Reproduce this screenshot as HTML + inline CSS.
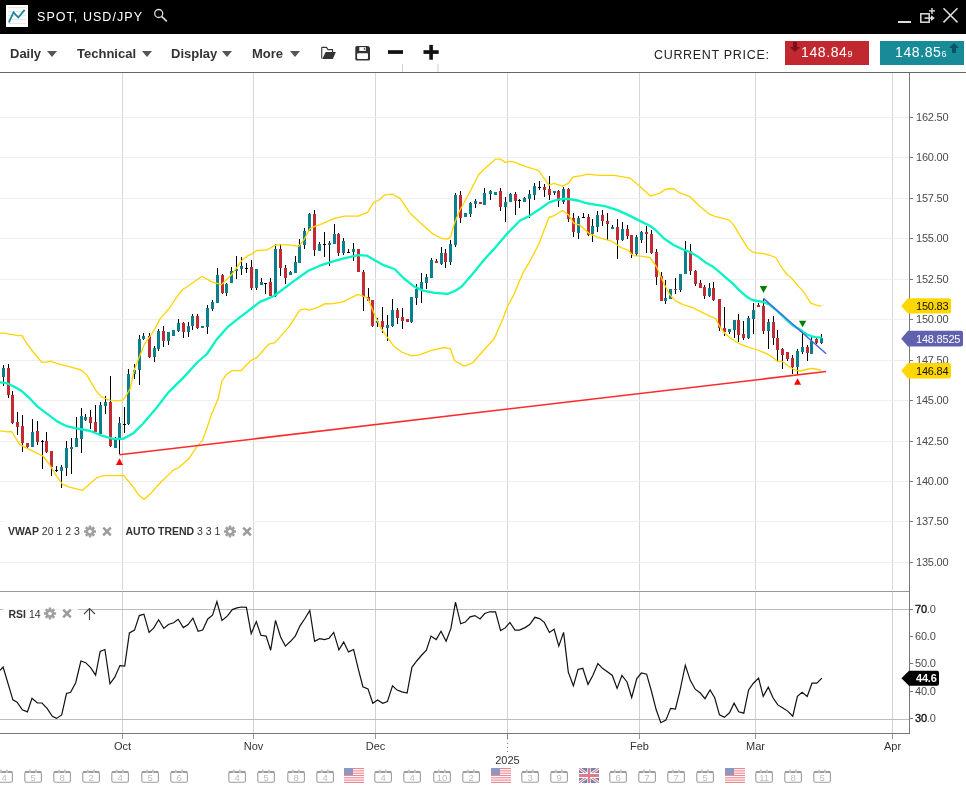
<!DOCTYPE html>
<html><head><meta charset="utf-8">
<style>
*{margin:0;padding:0;box-sizing:border-box}
html,body{width:966px;height:788px;overflow:hidden;background:#fff}
body{position:relative;font-family:"Liberation Sans",Arial,sans-serif}
#hdr{position:absolute;left:0;top:0;width:966px;height:34px;background:#000}
#tb{position:absolute;left:0;top:34px;width:966px;height:39px;background:#fff;border-bottom:1px solid #666}
.title{position:absolute;left:37px;top:10px;color:#fff;font-size:12.5px;letter-spacing:1.05px;white-space:nowrap}
.menu{position:absolute;top:12px;font-size:13px;font-weight:bold;color:#333;white-space:nowrap}
.caret{position:absolute;top:17px;width:0;height:0;border-left:5px solid transparent;border-right:5px solid transparent;border-top:6px solid #555}
.cp{position:absolute;left:654px;top:14px;font-size:12.5px;color:#222;letter-spacing:0.68px;white-space:nowrap}
.pbox{position:absolute;top:7px;height:24px;width:84px;color:#fff;font-size:14px;letter-spacing:0.6px}
.pbox span.t{position:absolute;top:3px;white-space:nowrap}
svg text.ax{font-family:"Liberation Sans",Arial,sans-serif;font-size:11px;fill:#4a4a4a;letter-spacing:-0.2px}
svg .axb{fill:#111;stroke:#111;stroke-width:0.35px}
svg text.xl{font-family:"Liberation Sans",Arial,sans-serif;font-size:11px;fill:#333}
svg text.cal{font-family:"Liberation Sans",Arial,sans-serif;font-size:9.5px;fill:#bdbdbd}
svg text.lg{font-family:"Liberation Sans",Arial,sans-serif;font-size:10.5px;fill:#333}
</style></head><body>
<svg id="chart" width="966" height="788" viewBox="0 0 966 788" style="position:absolute;left:0;top:0">
<rect x="122" y="73" width="1" height="517" fill="#d6d6d6"/>
<rect x="122" y="592" width="1" height="141" fill="#d0d0d0"/>
<rect x="253" y="73" width="1" height="517" fill="#d6d6d6"/>
<rect x="253" y="592" width="1" height="141" fill="#d0d0d0"/>
<rect x="375" y="73" width="1" height="517" fill="#d6d6d6"/>
<rect x="375" y="592" width="1" height="141" fill="#d0d0d0"/>
<rect x="507" y="73" width="1" height="517" fill="#d6d6d6"/>
<rect x="507" y="592" width="1" height="141" fill="#d0d0d0"/>
<rect x="639" y="73" width="1" height="517" fill="#d6d6d6"/>
<rect x="639" y="592" width="1" height="141" fill="#d0d0d0"/>
<rect x="755" y="73" width="1" height="517" fill="#d6d6d6"/>
<rect x="755" y="592" width="1" height="141" fill="#d0d0d0"/>
<rect x="892" y="73" width="1" height="517" fill="#d6d6d6"/>
<rect x="892" y="592" width="1" height="141" fill="#d0d0d0"/>
<rect x="0" y="117" width="908" height="1" fill="#eeeeee"/>
<rect x="0" y="157" width="908" height="1" fill="#eeeeee"/>
<rect x="0" y="198" width="908" height="1" fill="#eeeeee"/>
<rect x="0" y="238" width="908" height="1" fill="#eeeeee"/>
<rect x="0" y="279" width="908" height="1" fill="#eeeeee"/>
<rect x="0" y="319" width="908" height="1" fill="#eeeeee"/>
<rect x="0" y="360" width="908" height="1" fill="#eeeeee"/>
<rect x="0" y="400" width="908" height="1" fill="#eeeeee"/>
<rect x="0" y="441" width="908" height="1" fill="#eeeeee"/>
<rect x="0" y="481" width="908" height="1" fill="#eeeeee"/>
<rect x="0" y="521" width="908" height="1" fill="#eeeeee"/>
<rect x="0" y="562" width="908" height="1" fill="#eeeeee"/>
<rect x="0" y="609" width="909" height="1" fill="#bdbdbd"/>
<rect x="0" y="719" width="909" height="1" fill="#bdbdbd"/>
<rect x="0" y="591" width="909" height="1" fill="#9a9a9a"/>
<rect x="0" y="733" width="910" height="1" fill="#777"/>
<rect x="909" y="73" width="1" height="661" fill="#777"/>
<g shape-rendering="crispEdges">
<rect x="3" y="364.8" width="1" height="21.4" fill="#000"/>
<rect x="2" y="368.0" width="3" height="8.7" fill="#0c7f8c"/>
<rect x="8" y="363.7" width="1" height="33.9" fill="#000"/>
<rect x="7" y="368.0" width="3" height="26.8" fill="#c22a34"/>
<rect x="12" y="391.0" width="1" height="33.0" fill="#000"/>
<rect x="11" y="395.0" width="3" height="28.3" fill="#c22a34"/>
<rect x="17" y="411.9" width="1" height="22.9" fill="#000"/>
<rect x="16" y="422.0" width="3" height="4.8" fill="#c22a34"/>
<rect x="22" y="415.3" width="1" height="36.6" fill="#000"/>
<rect x="21" y="426.2" width="3" height="17.1" fill="#c22a34"/>
<rect x="27" y="443.0" width="1" height="5.6" fill="#000"/>
<rect x="26" y="443.0" width="3" height="3.7" fill="#c22a34"/>
<rect x="32" y="419.0" width="1" height="27.7" fill="#000"/>
<rect x="31" y="432.3" width="3" height="14.4" fill="#0c7f8c"/>
<rect x="37" y="420.8" width="1" height="23.8" fill="#000"/>
<rect x="36" y="431.0" width="3" height="11.0" fill="#c22a34"/>
<rect x="42" y="439.5" width="1" height="29.5" fill="#000"/>
<rect x="41" y="441.0" width="3" height="1.0" fill="#000"/>
<rect x="46" y="431.9" width="1" height="21.0" fill="#000"/>
<rect x="45" y="441.0" width="3" height="10.9" fill="#c22a34"/>
<rect x="51" y="451.0" width="1" height="24.7" fill="#000"/>
<rect x="50" y="451.3" width="3" height="15.3" fill="#c22a34"/>
<rect x="56" y="465.8" width="1" height="6.5" fill="#000"/>
<rect x="55" y="470.3" width="3" height="1.0" fill="#000"/>
<rect x="61" y="465.2" width="1" height="22.3" fill="#000"/>
<rect x="60" y="467.0" width="3" height="3.5" fill="#0c7f8c"/>
<rect x="66" y="441.0" width="1" height="34.7" fill="#000"/>
<rect x="65" y="448.0" width="3" height="19.7" fill="#0c7f8c"/>
<rect x="71" y="437.6" width="1" height="36.1" fill="#000"/>
<rect x="70" y="447.0" width="3" height="2.0" fill="#0c7f8c"/>
<rect x="76" y="417.2" width="1" height="29.9" fill="#000"/>
<rect x="75" y="438.1" width="3" height="9.0" fill="#0c7f8c"/>
<rect x="81" y="408.0" width="1" height="44.8" fill="#000"/>
<rect x="80" y="416.0" width="3" height="23.0" fill="#0c7f8c"/>
<rect x="85" y="413.8" width="1" height="7.2" fill="#000"/>
<rect x="84" y="417.2" width="3" height="2.7" fill="#0c7f8c"/>
<rect x="90" y="409.6" width="1" height="19.8" fill="#000"/>
<rect x="89" y="417.2" width="3" height="5.6" fill="#c22a34"/>
<rect x="95" y="405.2" width="1" height="27.2" fill="#000"/>
<rect x="94" y="422.3" width="3" height="10.1" fill="#c22a34"/>
<rect x="100" y="402.0" width="1" height="32.5" fill="#000"/>
<rect x="99" y="405.2" width="3" height="28.6" fill="#0c7f8c"/>
<rect x="105" y="396.3" width="1" height="17.5" fill="#000"/>
<rect x="104" y="402.0" width="3" height="3.8" fill="#0c7f8c"/>
<rect x="110" y="376.0" width="1" height="70.5" fill="#000"/>
<rect x="109" y="402.0" width="3" height="43.8" fill="#c22a34"/>
<rect x="115" y="437.0" width="1" height="10.6" fill="#000"/>
<rect x="114" y="437.6" width="3" height="10.0" fill="#0c7f8c"/>
<rect x="119" y="417.2" width="1" height="36.9" fill="#000"/>
<rect x="118" y="423.3" width="3" height="14.3" fill="#0c7f8c"/>
<rect x="124" y="407.1" width="1" height="25.7" fill="#000"/>
<rect x="123" y="424.3" width="3" height="1.0" fill="#000"/>
<rect x="128" y="369.0" width="1" height="56.0" fill="#000"/>
<rect x="127" y="374.2" width="3" height="50.1" fill="#0c7f8c"/>
<rect x="134" y="364.2" width="1" height="14.3" fill="#000"/>
<rect x="133" y="370.0" width="3" height="4.2" fill="#0c7f8c"/>
<rect x="139" y="335.3" width="1" height="49.5" fill="#000"/>
<rect x="138" y="339.1" width="3" height="31.2" fill="#0c7f8c"/>
<rect x="143" y="333.4" width="1" height="6.5" fill="#000"/>
<rect x="142" y="336.0" width="3" height="2.6" fill="#0c7f8c"/>
<rect x="149" y="333.4" width="1" height="24.2" fill="#000"/>
<rect x="148" y="336.0" width="3" height="21.0" fill="#c22a34"/>
<rect x="154" y="345.6" width="1" height="16.4" fill="#000"/>
<rect x="153" y="348.0" width="3" height="8.7" fill="#0c7f8c"/>
<rect x="158" y="329.0" width="1" height="22.0" fill="#000"/>
<rect x="157" y="331.0" width="3" height="17.6" fill="#0c7f8c"/>
<rect x="163" y="326.2" width="1" height="20.5" fill="#000"/>
<rect x="162" y="331.0" width="3" height="10.4" fill="#c22a34"/>
<rect x="168" y="331.9" width="1" height="12.9" fill="#000"/>
<rect x="167" y="331.9" width="3" height="9.5" fill="#0c7f8c"/>
<rect x="173" y="330.4" width="1" height="5.3" fill="#000"/>
<rect x="172" y="330.4" width="3" height="5.3" fill="#0c7f8c"/>
<rect x="178" y="319.0" width="1" height="13.3" fill="#000"/>
<rect x="177" y="323.3" width="3" height="7.7" fill="#0c7f8c"/>
<rect x="183" y="322.0" width="1" height="15.6" fill="#000"/>
<rect x="182" y="323.3" width="3" height="8.6" fill="#c22a34"/>
<rect x="188" y="322.4" width="1" height="14.3" fill="#000"/>
<rect x="187" y="325.8" width="3" height="5.7" fill="#0c7f8c"/>
<rect x="192" y="313.8" width="1" height="16.6" fill="#000"/>
<rect x="191" y="316.3" width="3" height="9.9" fill="#0c7f8c"/>
<rect x="197" y="313.7" width="1" height="15.3" fill="#000"/>
<rect x="196" y="316.1" width="3" height="12.0" fill="#c22a34"/>
<rect x="202" y="325.7" width="1" height="1.9" fill="#000"/>
<rect x="201" y="325.7" width="3" height="1.9" fill="#0c7f8c"/>
<rect x="207" y="305.3" width="1" height="28.5" fill="#000"/>
<rect x="206" y="308.0" width="3" height="18.6" fill="#0c7f8c"/>
<rect x="212" y="300.0" width="1" height="11.0" fill="#000"/>
<rect x="211" y="301.9" width="3" height="6.7" fill="#0c7f8c"/>
<rect x="217" y="268.0" width="1" height="34.8" fill="#000"/>
<rect x="216" y="275.2" width="3" height="27.6" fill="#0c7f8c"/>
<rect x="222" y="273.7" width="1" height="20.6" fill="#000"/>
<rect x="221" y="275.2" width="3" height="18.1" fill="#c22a34"/>
<rect x="226" y="282.5" width="1" height="13.3" fill="#000"/>
<rect x="225" y="284.3" width="3" height="8.4" fill="#0c7f8c"/>
<rect x="231" y="267.2" width="1" height="15.6" fill="#000"/>
<rect x="230" y="271.4" width="3" height="11.4" fill="#0c7f8c"/>
<rect x="236" y="255.8" width="1" height="23.6" fill="#000"/>
<rect x="235" y="268.6" width="3" height="2.8" fill="#0c7f8c"/>
<rect x="241" y="257.1" width="1" height="17.8" fill="#000"/>
<rect x="240" y="266.1" width="3" height="2.5" fill="#0c7f8c"/>
<rect x="246" y="263.4" width="1" height="9.9" fill="#000"/>
<rect x="245" y="267.6" width="3" height="1.0" fill="#000"/>
<rect x="251" y="260.4" width="1" height="29.1" fill="#000"/>
<rect x="250" y="267.2" width="3" height="20.4" fill="#c22a34"/>
<rect x="256" y="269.0" width="1" height="20.5" fill="#000"/>
<rect x="255" y="269.1" width="3" height="18.5" fill="#0c7f8c"/>
<rect x="261" y="278.4" width="1" height="6.1" fill="#000"/>
<rect x="260" y="282.2" width="3" height="2.3" fill="#0c7f8c"/>
<rect x="265" y="282.6" width="1" height="11.0" fill="#000"/>
<rect x="264" y="282.6" width="3" height="1.0" fill="#000"/>
<rect x="270" y="278.4" width="1" height="17.1" fill="#000"/>
<rect x="269" y="282.2" width="3" height="13.3" fill="#c22a34"/>
<rect x="275" y="243.5" width="1" height="53.9" fill="#000"/>
<rect x="274" y="249.3" width="3" height="46.7" fill="#0c7f8c"/>
<rect x="280" y="243.5" width="1" height="32.4" fill="#000"/>
<rect x="279" y="249.3" width="3" height="19.0" fill="#c22a34"/>
<rect x="285" y="265.0" width="1" height="18.5" fill="#000"/>
<rect x="284" y="267.7" width="3" height="10.7" fill="#c22a34"/>
<rect x="290" y="270.8" width="1" height="4.2" fill="#000"/>
<rect x="289" y="272.1" width="3" height="2.9" fill="#0c7f8c"/>
<rect x="295" y="255.5" width="1" height="17.2" fill="#000"/>
<rect x="294" y="262.0" width="3" height="10.7" fill="#0c7f8c"/>
<rect x="299" y="239.2" width="1" height="24.0" fill="#000"/>
<rect x="298" y="244.9" width="3" height="18.3" fill="#0c7f8c"/>
<rect x="304" y="228.3" width="1" height="20.4" fill="#000"/>
<rect x="303" y="230.8" width="3" height="14.1" fill="#0c7f8c"/>
<rect x="309" y="213.1" width="1" height="17.7" fill="#000"/>
<rect x="308" y="213.7" width="3" height="17.1" fill="#0c7f8c"/>
<rect x="314" y="209.9" width="1" height="46.4" fill="#000"/>
<rect x="313" y="214.0" width="3" height="36.2" fill="#c22a34"/>
<rect x="319" y="241.7" width="1" height="8.9" fill="#000"/>
<rect x="318" y="244.1" width="3" height="6.5" fill="#0c7f8c"/>
<rect x="324" y="232.4" width="1" height="24.3" fill="#000"/>
<rect x="323" y="244.2" width="3" height="1.0" fill="#000"/>
<rect x="329" y="241.0" width="1" height="24.7" fill="#000"/>
<rect x="328" y="243.4" width="3" height="1.9" fill="#0c7f8c"/>
<rect x="334" y="224.4" width="1" height="19.8" fill="#000"/>
<rect x="333" y="234.3" width="3" height="9.9" fill="#0c7f8c"/>
<rect x="338" y="232.8" width="1" height="22.8" fill="#000"/>
<rect x="337" y="233.9" width="3" height="19.0" fill="#c22a34"/>
<rect x="343" y="238.1" width="1" height="16.7" fill="#000"/>
<rect x="342" y="241.0" width="3" height="11.9" fill="#0c7f8c"/>
<rect x="348" y="248.6" width="1" height="3.8" fill="#000"/>
<rect x="347" y="252.4" width="3" height="1.0" fill="#000"/>
<rect x="353" y="243.4" width="1" height="17.9" fill="#000"/>
<rect x="352" y="248.6" width="3" height="3.8" fill="#0c7f8c"/>
<rect x="358" y="248.6" width="1" height="23.8" fill="#000"/>
<rect x="357" y="248.6" width="3" height="23.8" fill="#c22a34"/>
<rect x="363" y="270.1" width="1" height="41.3" fill="#000"/>
<rect x="362" y="272.0" width="3" height="25.1" fill="#c22a34"/>
<rect x="368" y="288.0" width="1" height="13.3" fill="#000"/>
<rect x="367" y="297.1" width="3" height="3.4" fill="#c22a34"/>
<rect x="372" y="300.0" width="1" height="27.2" fill="#000"/>
<rect x="371" y="300.0" width="3" height="26.0" fill="#c22a34"/>
<rect x="377" y="318.0" width="1" height="8.6" fill="#000"/>
<rect x="376" y="320.9" width="3" height="2.5" fill="#0c7f8c"/>
<rect x="382" y="307.0" width="1" height="26.3" fill="#000"/>
<rect x="381" y="320.9" width="3" height="6.3" fill="#c22a34"/>
<rect x="387" y="315.2" width="1" height="25.7" fill="#000"/>
<rect x="386" y="324.7" width="3" height="3.2" fill="#0c7f8c"/>
<rect x="392" y="298.9" width="1" height="28.1" fill="#000"/>
<rect x="391" y="310.3" width="3" height="15.8" fill="#0c7f8c"/>
<rect x="397" y="308.0" width="1" height="16.2" fill="#000"/>
<rect x="396" y="310.3" width="3" height="7.3" fill="#c22a34"/>
<rect x="402" y="308.0" width="1" height="20.6" fill="#000"/>
<rect x="401" y="317.2" width="3" height="3.8" fill="#c22a34"/>
<rect x="407" y="319.1" width="1" height="2.6" fill="#000"/>
<rect x="406" y="319.1" width="3" height="2.6" fill="#c22a34"/>
<rect x="411" y="297.0" width="1" height="26.3" fill="#000"/>
<rect x="410" y="297.0" width="3" height="24.7" fill="#0c7f8c"/>
<rect x="416" y="283.7" width="1" height="20.9" fill="#000"/>
<rect x="415" y="288.6" width="3" height="9.5" fill="#0c7f8c"/>
<rect x="421" y="272.8" width="1" height="29.9" fill="#000"/>
<rect x="420" y="282.3" width="3" height="6.7" fill="#0c7f8c"/>
<rect x="426" y="273.8" width="1" height="15.6" fill="#000"/>
<rect x="425" y="277.2" width="3" height="6.1" fill="#0c7f8c"/>
<rect x="431" y="257.6" width="1" height="20.0" fill="#000"/>
<rect x="430" y="260.0" width="3" height="17.6" fill="#0c7f8c"/>
<rect x="436" y="259.0" width="1" height="4.3" fill="#000"/>
<rect x="435" y="260.5" width="3" height="2.8" fill="#c22a34"/>
<rect x="441" y="246.8" width="1" height="17.8" fill="#000"/>
<rect x="440" y="252.9" width="3" height="11.0" fill="#0c7f8c"/>
<rect x="445" y="249.0" width="1" height="19.0" fill="#000"/>
<rect x="444" y="252.9" width="3" height="9.1" fill="#c22a34"/>
<rect x="450" y="239.9" width="1" height="24.7" fill="#000"/>
<rect x="449" y="244.3" width="3" height="17.7" fill="#0c7f8c"/>
<rect x="455" y="193.4" width="1" height="53.3" fill="#000"/>
<rect x="454" y="195.3" width="3" height="49.5" fill="#0c7f8c"/>
<rect x="460" y="191.0" width="1" height="31.7" fill="#000"/>
<rect x="459" y="195.3" width="3" height="22.3" fill="#c22a34"/>
<rect x="465" y="213.2" width="1" height="3.4" fill="#000"/>
<rect x="464" y="213.2" width="3" height="3.4" fill="#0c7f8c"/>
<rect x="470" y="201.8" width="1" height="14.8" fill="#000"/>
<rect x="469" y="202.9" width="3" height="10.9" fill="#0c7f8c"/>
<rect x="475" y="199.1" width="1" height="8.4" fill="#000"/>
<rect x="474" y="201.0" width="3" height="2.7" fill="#0c7f8c"/>
<rect x="480" y="202.4" width="1" height="1.9" fill="#000"/>
<rect x="479" y="202.4" width="3" height="1.9" fill="#c22a34"/>
<rect x="484" y="188.1" width="1" height="16.7" fill="#000"/>
<rect x="483" y="193.4" width="3" height="11.4" fill="#0c7f8c"/>
<rect x="490" y="190.0" width="1" height="9.9" fill="#000"/>
<rect x="489" y="191.0" width="3" height="2.8" fill="#0c7f8c"/>
<rect x="495" y="191.5" width="1" height="3.3" fill="#000"/>
<rect x="494" y="191.5" width="3" height="3.3" fill="#0c7f8c"/>
<rect x="500" y="188.1" width="1" height="22.9" fill="#000"/>
<rect x="499" y="191.0" width="3" height="15.8" fill="#c22a34"/>
<rect x="505" y="197.2" width="1" height="24.8" fill="#000"/>
<rect x="504" y="202.4" width="3" height="4.4" fill="#0c7f8c"/>
<rect x="510" y="193.4" width="1" height="9.0" fill="#000"/>
<rect x="509" y="194.2" width="3" height="8.2" fill="#0c7f8c"/>
<rect x="515" y="192.3" width="1" height="22.5" fill="#000"/>
<rect x="514" y="194.2" width="3" height="6.8" fill="#c22a34"/>
<rect x="519" y="198.5" width="1" height="9.0" fill="#000"/>
<rect x="518" y="199.9" width="3" height="1.0" fill="#000"/>
<rect x="524" y="197.0" width="1" height="4.8" fill="#000"/>
<rect x="523" y="198.0" width="3" height="3.8" fill="#0c7f8c"/>
<rect x="529" y="190.4" width="1" height="27.2" fill="#000"/>
<rect x="528" y="194.2" width="3" height="4.9" fill="#0c7f8c"/>
<rect x="534" y="183.3" width="1" height="16.2" fill="#000"/>
<rect x="533" y="186.2" width="3" height="8.6" fill="#0c7f8c"/>
<rect x="539" y="181.4" width="1" height="9.0" fill="#000"/>
<rect x="538" y="187.1" width="3" height="1.0" fill="#000"/>
<rect x="544" y="184.3" width="1" height="12.4" fill="#000"/>
<rect x="543" y="187.1" width="3" height="2.9" fill="#c22a34"/>
<rect x="549" y="176.3" width="1" height="23.2" fill="#000"/>
<rect x="548" y="189.0" width="3" height="5.8" fill="#c22a34"/>
<rect x="554" y="191.0" width="1" height="3.8" fill="#000"/>
<rect x="553" y="191.0" width="3" height="1.9" fill="#0c7f8c"/>
<rect x="558" y="190.0" width="1" height="16.8" fill="#000"/>
<rect x="557" y="191.0" width="3" height="10.4" fill="#c22a34"/>
<rect x="563" y="187.1" width="1" height="17.2" fill="#000"/>
<rect x="562" y="189.0" width="3" height="12.8" fill="#0c7f8c"/>
<rect x="568" y="187.7" width="1" height="34.7" fill="#000"/>
<rect x="567" y="189.0" width="3" height="29.6" fill="#c22a34"/>
<rect x="573" y="213.2" width="1" height="23.4" fill="#000"/>
<rect x="572" y="218.2" width="3" height="14.1" fill="#c22a34"/>
<rect x="578" y="216.3" width="1" height="22.2" fill="#000"/>
<rect x="577" y="218.2" width="3" height="14.6" fill="#0c7f8c"/>
<rect x="583" y="213.4" width="1" height="3.8" fill="#000"/>
<rect x="582" y="217.2" width="3" height="1.0" fill="#000"/>
<rect x="588" y="214.2" width="1" height="21.5" fill="#000"/>
<rect x="587" y="217.2" width="3" height="17.9" fill="#c22a34"/>
<rect x="592" y="218.5" width="1" height="23.5" fill="#000"/>
<rect x="591" y="226.2" width="3" height="8.1" fill="#0c7f8c"/>
<rect x="597" y="211.0" width="1" height="21.4" fill="#000"/>
<rect x="596" y="215.3" width="3" height="11.5" fill="#0c7f8c"/>
<rect x="602" y="210.0" width="1" height="15.6" fill="#000"/>
<rect x="601" y="215.3" width="3" height="5.7" fill="#c22a34"/>
<rect x="607" y="213.4" width="1" height="26.7" fill="#000"/>
<rect x="606" y="220.5" width="3" height="3.2" fill="#c22a34"/>
<rect x="612" y="225.2" width="1" height="3.4" fill="#000"/>
<rect x="611" y="226.8" width="3" height="1.8" fill="#0c7f8c"/>
<rect x="617" y="218.5" width="1" height="40.0" fill="#000"/>
<rect x="616" y="226.8" width="3" height="12.7" fill="#c22a34"/>
<rect x="622" y="222.4" width="1" height="18.4" fill="#000"/>
<rect x="621" y="229.0" width="3" height="11.1" fill="#0c7f8c"/>
<rect x="627" y="225.2" width="1" height="13.7" fill="#000"/>
<rect x="626" y="229.4" width="3" height="6.3" fill="#c22a34"/>
<rect x="631" y="235.1" width="1" height="22.9" fill="#000"/>
<rect x="630" y="235.1" width="3" height="18.7" fill="#c22a34"/>
<rect x="636" y="235.1" width="1" height="20.6" fill="#000"/>
<rect x="635" y="237.0" width="3" height="16.8" fill="#0c7f8c"/>
<rect x="641" y="231.0" width="1" height="11.7" fill="#000"/>
<rect x="640" y="231.9" width="3" height="7.6" fill="#0c7f8c"/>
<rect x="646" y="225.6" width="1" height="27.8" fill="#000"/>
<rect x="645" y="231.9" width="3" height="2.4" fill="#c22a34"/>
<rect x="651" y="230.1" width="1" height="23.6" fill="#000"/>
<rect x="650" y="234.3" width="3" height="18.6" fill="#c22a34"/>
<rect x="656" y="249.1" width="1" height="35.6" fill="#000"/>
<rect x="655" y="251.8" width="3" height="24.7" fill="#c22a34"/>
<rect x="661" y="272.0" width="1" height="28.5" fill="#000"/>
<rect x="660" y="276.2" width="3" height="24.3" fill="#c22a34"/>
<rect x="665" y="280.0" width="1" height="23.8" fill="#000"/>
<rect x="664" y="298.1" width="3" height="2.4" fill="#0c7f8c"/>
<rect x="670" y="289.0" width="1" height="10.4" fill="#000"/>
<rect x="669" y="289.1" width="3" height="10.3" fill="#0c7f8c"/>
<rect x="675" y="278.0" width="1" height="15.7" fill="#000"/>
<rect x="674" y="288.5" width="3" height="1.9" fill="#c22a34"/>
<rect x="680" y="274.0" width="1" height="17.8" fill="#000"/>
<rect x="679" y="274.2" width="3" height="16.2" fill="#0c7f8c"/>
<rect x="685" y="241.0" width="1" height="33.2" fill="#000"/>
<rect x="684" y="250.5" width="3" height="23.7" fill="#0c7f8c"/>
<rect x="690" y="244.2" width="1" height="30.4" fill="#000"/>
<rect x="689" y="251.4" width="3" height="20.0" fill="#c22a34"/>
<rect x="695" y="269.5" width="1" height="16.2" fill="#000"/>
<rect x="694" y="271.4" width="3" height="12.4" fill="#c22a34"/>
<rect x="700" y="280.3" width="1" height="7.3" fill="#000"/>
<rect x="699" y="282.8" width="3" height="4.8" fill="#c22a34"/>
<rect x="704" y="285.3" width="1" height="13.3" fill="#000"/>
<rect x="703" y="287.2" width="3" height="8.9" fill="#c22a34"/>
<rect x="709" y="283.4" width="1" height="13.2" fill="#000"/>
<rect x="708" y="288.0" width="3" height="8.1" fill="#0c7f8c"/>
<rect x="713" y="282.0" width="1" height="19.0" fill="#000"/>
<rect x="712" y="288.0" width="3" height="12.0" fill="#c22a34"/>
<rect x="719" y="299.0" width="1" height="31.9" fill="#000"/>
<rect x="718" y="299.1" width="3" height="28.9" fill="#c22a34"/>
<rect x="724" y="306.7" width="1" height="29.3" fill="#000"/>
<rect x="723" y="328.0" width="3" height="4.2" fill="#c22a34"/>
<rect x="729" y="329.0" width="1" height="4.8" fill="#000"/>
<rect x="728" y="329.0" width="3" height="3.2" fill="#0c7f8c"/>
<rect x="734" y="320.0" width="1" height="18.0" fill="#000"/>
<rect x="733" y="320.0" width="3" height="9.6" fill="#0c7f8c"/>
<rect x="738" y="313.8" width="1" height="28.0" fill="#000"/>
<rect x="737" y="320.0" width="3" height="14.7" fill="#c22a34"/>
<rect x="743" y="320.8" width="1" height="19.6" fill="#000"/>
<rect x="742" y="333.8" width="3" height="3.8" fill="#c22a34"/>
<rect x="748" y="316.2" width="1" height="22.3" fill="#000"/>
<rect x="747" y="317.6" width="3" height="20.4" fill="#0c7f8c"/>
<rect x="753" y="302.9" width="1" height="30.9" fill="#000"/>
<rect x="752" y="310.0" width="3" height="8.6" fill="#0c7f8c"/>
<rect x="758" y="302.9" width="1" height="3.8" fill="#000"/>
<rect x="757" y="305.2" width="3" height="1.5" fill="#c22a34"/>
<rect x="763" y="298.5" width="1" height="35.3" fill="#000"/>
<rect x="762" y="305.6" width="3" height="25.4" fill="#c22a34"/>
<rect x="768" y="318.9" width="1" height="30.5" fill="#000"/>
<rect x="767" y="322.0" width="3" height="9.0" fill="#0c7f8c"/>
<rect x="773" y="315.7" width="1" height="29.1" fill="#000"/>
<rect x="772" y="322.0" width="3" height="16.0" fill="#c22a34"/>
<rect x="777" y="330.3" width="1" height="32.0" fill="#000"/>
<rect x="776" y="337.6" width="3" height="12.4" fill="#c22a34"/>
<rect x="782" y="348.2" width="1" height="20.4" fill="#000"/>
<rect x="781" y="349.3" width="3" height="5.3" fill="#c22a34"/>
<rect x="787" y="352.3" width="1" height="8.4" fill="#000"/>
<rect x="786" y="352.3" width="3" height="6.5" fill="#c22a34"/>
<rect x="792" y="354.9" width="1" height="18.7" fill="#000"/>
<rect x="791" y="357.9" width="3" height="9.1" fill="#c22a34"/>
<rect x="797" y="349.3" width="1" height="25.8" fill="#000"/>
<rect x="796" y="350.8" width="3" height="16.0" fill="#0c7f8c"/>
<rect x="802" y="332.5" width="1" height="21.2" fill="#000"/>
<rect x="801" y="347.0" width="3" height="4.5" fill="#0c7f8c"/>
<rect x="807" y="345.1" width="1" height="15.6" fill="#000"/>
<rect x="806" y="347.0" width="3" height="5.7" fill="#c22a34"/>
<rect x="811" y="336.0" width="1" height="17.8" fill="#000"/>
<rect x="810" y="340.6" width="3" height="13.2" fill="#0c7f8c"/>
<rect x="816" y="338.3" width="1" height="5.4" fill="#000"/>
<rect x="815" y="339.0" width="3" height="3.7" fill="#c22a34"/>
<rect x="821" y="334.1" width="1" height="9.6" fill="#000"/>
<rect x="820" y="338.1" width="3" height="4.9" fill="#0c7f8c"/>
</g>
<polyline points="0.0,333.2 4.1,333.2 18.3,335.7 21.8,335.4 27.4,344.4 33.5,352.5 41.6,362.1 46.7,362.1 50.8,361.1 55.8,363.1 71.1,367.2 81.0,370.0 86.7,374.8 96.2,391.0 101.0,396.7 109.5,400.1 117.1,400.9 122.9,400.1 126.7,394.8 130.0,389.0 134.5,369.0 140.2,354.8 144.0,345.2 153.6,331.0 160.2,318.6 168.8,309.0 176.4,297.6 182.1,290.0 190.0,284.7 201.8,276.2 211.9,281.9 221.4,284.7 231.9,274.3 241.4,261.0 247.1,256.2 251.9,253.9 256.7,250.5 266.4,250.2 276.0,244.9 289.3,244.9 298.8,246.4 304.5,238.8 310.2,228.3 316.0,225.8 320.0,224.7 335.2,218.1 344.8,216.2 358.1,216.2 367.6,212.4 373.3,202.9 379.0,200.0 385.0,194.8 392.6,194.2 400.2,198.6 409.8,212.9 423.1,225.2 432.6,233.8 442.1,238.5 447.9,239.1 450.7,236.6 454.5,223.3 459.5,211.0 469.0,193.8 478.6,174.8 484.3,169.0 495.7,159.1 500.5,159.1 505.2,162.4 511.0,161.4 515.0,162.4 524.5,166.2 538.8,170.6 543.6,177.6 548.9,185.2 554.0,183.3 562.6,186.2 568.3,183.3 573.0,177.0 581.6,175.7 587.6,174.2 599.0,175.3 614.3,175.3 630.0,178.1 639.3,185.9 650.7,196.2 660.0,193.1 665.2,189.5 670.4,188.5 674.5,189.0 679.7,192.9 690.0,196.7 698.3,205.0 708.7,213.8 714.9,216.4 720.0,217.7 729.1,220.1 734.0,225.4 740.9,237.2 747.9,248.4 753.5,252.6 761.9,253.3 768.9,255.0 775.8,257.5 781.4,267.2 787.0,274.5 792.6,279.1 798.2,286.1 803.1,291.0 810.7,303.2 816.3,305.2 821.0,306.0" fill="none" stroke="#ffd400" stroke-width="1.3" stroke-linejoin="round"/>
<polyline points="0.0,430.9 7.6,431.9 11.6,431.5 19.8,444.7 34.3,451.9 42.9,456.0 49.5,464.5 57.1,477.0 62.7,484.3 69.5,487.1 82.5,490.3 97.1,477.6 103.8,475.7 121.9,475.7 123.4,475.1 133.7,487.7 138.3,494.6 144.0,499.6 149.7,494.6 158.9,484.3 172.6,470.6 179.4,467.1 188.6,459.1 197.7,445.4 202.3,440.9 206.9,428.3 211.4,414.6 218.3,398.6 221.7,381.4 226.3,374.6 232.0,370.7 241.1,370.7 250.3,360.9 257.1,357.4 268.6,344.2 275.0,342.6 289.3,326.4 299.8,310.2 304.5,308.9 309.3,310.2 317.9,307.3 325.0,303.6 331.4,303.8 342.9,301.9 350.5,298.1 358.1,294.3 362.9,296.2 367.6,298.1 373.3,311.4 380.0,326.4 386.6,336.3 393.2,345.4 401.5,352.0 411.5,355.8 419.7,354.8 431.3,350.4 444.6,347.5 450.4,348.7 454.5,360.8 464.4,366.1 472.7,362.8 484.3,349.5 494.2,338.8 502.5,319.7 507.5,306.5 514.1,294.1 519.9,280.0 523.6,271.8 529.3,262.3 538.8,244.3 548.9,217.6 554.0,215.7 562.6,210.5 568.3,214.7 574.0,223.3 580.0,225.2 589.5,233.8 599.0,237.6 612.4,241.4 620.0,247.1 627.6,250.0 633.3,255.7 641.0,256.1 650.0,257.6 656.4,266.6 664.0,283.8 669.8,294.8 675.5,300.9 683.1,304.7 692.6,307.6 702.1,312.4 709.7,316.2 715.7,318.6 719.5,326.2 725.2,333.8 731.0,338.5 738.6,343.3 748.1,347.1 757.6,350.0 767.1,353.8 772.9,357.6 777.6,361.4 782.2,361.4 788.3,366.0 794.4,369.8 800.4,371.0 806.5,369.5 811.1,368.3 815.7,369.0 821.0,370.1" fill="none" stroke="#ffd400" stroke-width="1.3" stroke-linejoin="round"/>
<polyline points="0.0,382.3 7.1,383.2 15.2,387.2 22.3,391.6 30.5,399.2 38.1,407.1 49.5,415.7 57.1,421.4 66.7,426.2 75.2,428.1 90.5,431.0 101.9,435.7 113.3,438.9 122.9,438.9 133.7,432.9 142.9,423.7 156.6,407.7 168.0,392.9 186.3,374.6 197.7,362.0 206.9,354.0 216.0,340.3 228.1,326.6 241.4,316.2 260.0,301.9 274.0,296.0 293.1,281.7 308.3,270.8 320.0,265.7 331.4,261.9 342.9,258.6 358.1,255.2 366.7,255.6 375.2,260.6 382.8,264.8 394.5,269.0 404.0,278.5 413.6,286.2 423.1,290.6 434.5,292.9 447.9,293.8 455.0,291.0 461.4,286.8 472.8,273.8 484.3,259.5 495.7,247.1 507.1,233.8 520.0,220.5 528.3,216.6 539.8,209.0 549.3,202.4 556.9,199.9 564.5,198.6 572.1,199.5 579.7,201.0 585.0,202.9 593.3,204.3 604.8,206.2 618.1,210.4 630.0,215.9 640.4,221.1 650.7,226.3 655.0,229.5 664.0,238.5 673.6,245.0 683.1,249.5 690.0,252.0 698.9,257.3 705.1,262.2 712.2,266.2 718.4,271.1 725.5,277.3 732.6,283.4 739.7,290.6 746.8,296.8 752.2,300.0 757.0,301.0 761.9,301.6 768.9,304.2 775.8,309.8 782.8,316.1 787.5,320.8 793.8,326.1 800.0,329.5 806.3,334.1 812.0,336.5 815.5,337.2 820.8,337.7" fill="none" stroke="#06f4c4" stroke-width="2.3" stroke-linejoin="round" stroke-linecap="round"/>
<line x1="119.4" y1="454.7" x2="826" y2="371.6" stroke="#ff2a2a" stroke-width="1.5"/>
<line x1="763.4" y1="298.4" x2="826.2" y2="353.8" stroke="#4169e1" stroke-width="1.5"/>
<polygon points="116.0,465 123.0,465 119.5,458.3" fill="#ff0000"/>
<polygon points="794.1,384.8 801.1,384.8 797.6,378.2" fill="#ff0000"/>
<polygon points="759.8,286.1 767.2,286.1 763.5,292.9" fill="#008000"/>
<polygon points="798.9,320.8 806.3,320.8 802.6,327.2" fill="#008000"/>
<polyline points="0.0,670.4 3.1,667.0 12.9,699.9 17.1,702.1 22.3,709.8 27.4,711.9 32.0,698.2 37.4,703.0 42.0,703.0 47.1,708.4 52.3,716.3 56.5,718.4 61.7,715.0 66.5,693.5 70.6,692.3 75.7,682.7 80.9,661.0 85.7,662.7 90.8,667.8 95.6,675.2 100.2,651.5 104.9,649.5 110.0,683.8 114.8,677.2 119.9,665.6 124.7,666.1 129.4,633.0 134.5,630.1 139.3,615.6 143.9,614.2 149.1,632.4 153.8,627.9 158.6,619.8 163.8,628.4 168.4,624.5 173.6,622.8 178.2,619.3 183.3,627.6 188.1,624.5 192.9,618.1 198.1,631.3 202.7,630.1 207.8,619.0 212.5,615.2 216.9,601.5 222.0,620.4 227.5,615.9 232.3,609.6 237.0,607.9 241.6,607.0 246.4,607.3 251.2,633.6 256.3,621.6 260.9,635.3 266.1,636.1 270.7,650.2 275.5,620.4 280.6,637.0 285.4,646.1 290.6,641.3 295.4,635.8 300.0,625.8 304.6,619.0 309.8,610.4 314.6,641.3 319.7,638.7 324.5,639.6 329.1,638.2 333.7,632.4 338.9,649.8 343.7,642.1 348.5,651.9 353.6,649.5 358.2,668.7 362.9,686.7 368.0,688.9 372.8,703.3 377.6,699.9 382.7,703.3 387.4,701.6 392.5,685.8 397.1,690.1 401.9,691.8 407.1,693.0 411.9,667.3 416.7,661.0 421.8,655.0 426.4,650.2 431.0,636.1 436.2,639.6 441.0,631.3 446.1,641.3 450.9,628.4 455.5,602.2 460.7,623.8 465.3,622.1 470.1,616.9 474.9,615.6 480.1,619.0 484.7,613.5 489.8,611.8 495.5,611.8 500.6,630.6 505.2,627.9 509.9,622.4 515.0,630.1 519.5,630.1 525.0,627.6 529.7,624.5 534.9,617.3 539.5,618.6 544.3,622.4 549.4,632.4 554.1,629.3 558.8,646.1 563.6,632.4 568.3,672.1 573.4,685.8 578.0,669.5 582.8,668.3 588.0,684.4 592.8,675.5 597.9,663.5 602.5,668.3 607.7,672.1 612.3,675.5 617.1,688.4 621.9,675.5 627.0,682.0 631.7,697.5 636.8,678.6 641.4,673.0 646.6,674.2 651.4,691.0 656.2,709.8 660.8,722.7 665.9,720.1 670.6,708.4 675.4,709.0 680.1,690.1 685.3,665.2 690.4,680.6 695.2,689.2 700.3,693.0 705.0,698.6 710.1,690.0 714.7,697.8 719.5,714.9 724.3,717.4 729.5,712.8 734.1,703.2 738.7,711.8 743.8,713.2 748.6,690.0 753.4,683.2 758.6,678.1 763.2,696.4 768.3,687.2 773.0,697.8 777.8,704.9 782.9,708.0 787.7,711.1 792.8,716.2 797.4,696.4 802.1,692.3 807.2,696.4 812.0,683.2 816.8,683.2 821.9,678.1" fill="none" stroke="#111" stroke-width="1.2" stroke-linejoin="miter"/>
<rect x="910" y="117" width="3" height="1" fill="#777"/>
<text x="916" y="121" class="ax">162.50</text>
<rect x="910" y="157" width="3" height="1" fill="#777"/>
<text x="916" y="161" class="ax">160.00</text>
<rect x="910" y="198" width="3" height="1" fill="#777"/>
<text x="916" y="202" class="ax">157.50</text>
<rect x="910" y="238" width="3" height="1" fill="#777"/>
<text x="916" y="242" class="ax">155.00</text>
<rect x="910" y="279" width="3" height="1" fill="#777"/>
<text x="916" y="283" class="ax">152.50</text>
<rect x="910" y="319" width="3" height="1" fill="#777"/>
<text x="916" y="323" class="ax">150.00</text>
<rect x="910" y="360" width="3" height="1" fill="#777"/>
<text x="916" y="364" class="ax">147.50</text>
<rect x="910" y="400" width="3" height="1" fill="#777"/>
<text x="916" y="404" class="ax">145.00</text>
<rect x="910" y="441" width="3" height="1" fill="#777"/>
<text x="916" y="445" class="ax">142.50</text>
<rect x="910" y="481" width="3" height="1" fill="#777"/>
<text x="916" y="485" class="ax">140.00</text>
<rect x="910" y="521" width="3" height="1" fill="#777"/>
<text x="916" y="525" class="ax">137.50</text>
<rect x="910" y="562" width="3" height="1" fill="#777"/>
<text x="916" y="566" class="ax">135.00</text>
<rect x="910" y="609" width="3" height="1" fill="#777"/>
<text x="915" y="612.5" class="ax"><tspan class="axb">70</tspan>.0</text>
<rect x="910" y="636" width="3" height="1" fill="#777"/>
<text x="915" y="639.5" class="ax">60.0</text>
<rect x="910" y="663" width="3" height="1" fill="#777"/>
<text x="915" y="666.5" class="ax">50.0</text>
<rect x="910" y="691" width="3" height="1" fill="#777"/>
<text x="915" y="694.5" class="ax">40.0</text>
<rect x="910" y="718" width="3" height="1" fill="#777"/>
<text x="915" y="721.5" class="ax"><tspan class="axb">30</tspan>.0</text>
<path d="M901.2,305.9 L908,298.2 L949,298.2 Q951,298.2 951,300.2 L951,311.6 Q951,313.6 949,313.6 L908,313.6 Z" fill="#ffd700"/><text x="916" y="309.9" class="ax" fill="#111" style="fill:#111">150.83</text>
<path d="M901.2,338.65 L908,330.8 L961,330.8 Q963,330.8 963,332.8 L963,344.5 Q963,346.5 961,346.5 L908,346.5 Z" fill="#6060ae"/><text x="916" y="342.65" class="ax" fill="#fff" style="fill:#fff">148.8525</text>
<path d="M901.2,370.8 L908,363 L949,363 Q951,363 951,365 L951,376.6 Q951,378.6 949,378.6 L908,378.6 Z" fill="#ffd700"/><text x="916" y="374.8" class="ax" fill="#111" style="fill:#111">146.84</text>
<path d="M901.4,678.3 L909,670.8 L937,670.8 Q939,670.8 939,672.8 L939,683.8 Q939,685.8 937,685.8 L909,685.8 Z" fill="#000"/><text x="916" y="682.3" class="ax" fill="#fff" style="fill:#fff"><tspan font-weight="bold">44.6</tspan></text>
<rect x="122" y="734" width="1" height="5" fill="#999"/>
<text x="122.5" y="750" class="xl" text-anchor="middle">Oct</text>
<rect x="253" y="734" width="1" height="5" fill="#999"/>
<text x="253.5" y="750" class="xl" text-anchor="middle">Nov</text>
<rect x="375" y="734" width="1" height="5" fill="#999"/>
<text x="375.5" y="750" class="xl" text-anchor="middle">Dec</text>
<rect x="639" y="734" width="1" height="5" fill="#999"/>
<text x="639.5" y="750" class="xl" text-anchor="middle">Feb</text>
<rect x="755" y="734" width="1" height="5" fill="#999"/>
<text x="755.5" y="750" class="xl" text-anchor="middle">Mar</text>
<rect x="892" y="734" width="1" height="5" fill="#999"/>
<text x="892.5" y="750" class="xl" text-anchor="middle">Apr</text>
<rect x="507" y="734" width="1" height="5.5" fill="#888"/><rect x="507" y="743" width="1" height="1" fill="#777"/><rect x="507" y="747" width="1" height="1" fill="#777"/><rect x="507" y="751" width="1" height="1" fill="#777"/>
<text x="507.5" y="764" class="xl" text-anchor="middle">2025</text>
<rect x="-4.2" y="771.6" width="16.6" height="10.7" rx="1.8" fill="#fff" stroke="#9c9c9c" stroke-width="1.1"/><rect x="-4" y="771.1" width="16.2" height="1.9" fill="#9c9c9c"/><rect x="-0.09999999999999964" y="769.6" width="1.8" height="3.4" fill="#c4c4c4"/><rect x="6" y="769.6" width="1.8" height="3.4" fill="#c4c4c4"/><text x="4.1" y="780.8" class="cal" text-anchor="middle">4</text>
<rect x="24.8" y="771.6" width="16.6" height="10.7" rx="1.8" fill="#fff" stroke="#9c9c9c" stroke-width="1.1"/><rect x="25" y="771.1" width="16.2" height="1.9" fill="#9c9c9c"/><rect x="28.9" y="769.6" width="1.8" height="3.4" fill="#c4c4c4"/><rect x="35" y="769.6" width="1.8" height="3.4" fill="#c4c4c4"/><text x="33.1" y="780.8" class="cal" text-anchor="middle">5</text>
<rect x="53.8" y="771.6" width="16.6" height="10.7" rx="1.8" fill="#fff" stroke="#9c9c9c" stroke-width="1.1"/><rect x="54" y="771.1" width="16.2" height="1.9" fill="#9c9c9c"/><rect x="57.9" y="769.6" width="1.8" height="3.4" fill="#c4c4c4"/><rect x="64" y="769.6" width="1.8" height="3.4" fill="#c4c4c4"/><text x="62.1" y="780.8" class="cal" text-anchor="middle">8</text>
<rect x="82.8" y="771.6" width="16.6" height="10.7" rx="1.8" fill="#fff" stroke="#9c9c9c" stroke-width="1.1"/><rect x="83" y="771.1" width="16.2" height="1.9" fill="#9c9c9c"/><rect x="86.9" y="769.6" width="1.8" height="3.4" fill="#c4c4c4"/><rect x="93" y="769.6" width="1.8" height="3.4" fill="#c4c4c4"/><text x="91.1" y="780.8" class="cal" text-anchor="middle">2</text>
<rect x="111.8" y="771.6" width="16.6" height="10.7" rx="1.8" fill="#fff" stroke="#9c9c9c" stroke-width="1.1"/><rect x="112" y="771.1" width="16.2" height="1.9" fill="#9c9c9c"/><rect x="115.9" y="769.6" width="1.8" height="3.4" fill="#c4c4c4"/><rect x="122" y="769.6" width="1.8" height="3.4" fill="#c4c4c4"/><text x="120.1" y="780.8" class="cal" text-anchor="middle">4</text>
<rect x="141.8" y="771.6" width="16.6" height="10.7" rx="1.8" fill="#fff" stroke="#9c9c9c" stroke-width="1.1"/><rect x="142" y="771.1" width="16.2" height="1.9" fill="#9c9c9c"/><rect x="145.9" y="769.6" width="1.8" height="3.4" fill="#c4c4c4"/><rect x="152" y="769.6" width="1.8" height="3.4" fill="#c4c4c4"/><text x="150.1" y="780.8" class="cal" text-anchor="middle">5</text>
<rect x="170.8" y="771.6" width="16.6" height="10.7" rx="1.8" fill="#fff" stroke="#9c9c9c" stroke-width="1.1"/><rect x="171" y="771.1" width="16.2" height="1.9" fill="#9c9c9c"/><rect x="174.9" y="769.6" width="1.8" height="3.4" fill="#c4c4c4"/><rect x="181" y="769.6" width="1.8" height="3.4" fill="#c4c4c4"/><text x="179.1" y="780.8" class="cal" text-anchor="middle">6</text>
<rect x="228.8" y="771.6" width="16.6" height="10.7" rx="1.8" fill="#fff" stroke="#9c9c9c" stroke-width="1.1"/><rect x="229" y="771.1" width="16.2" height="1.9" fill="#9c9c9c"/><rect x="232.9" y="769.6" width="1.8" height="3.4" fill="#c4c4c4"/><rect x="239" y="769.6" width="1.8" height="3.4" fill="#c4c4c4"/><text x="237.1" y="780.8" class="cal" text-anchor="middle">4</text>
<rect x="257.8" y="771.6" width="16.6" height="10.7" rx="1.8" fill="#fff" stroke="#9c9c9c" stroke-width="1.1"/><rect x="258" y="771.1" width="16.2" height="1.9" fill="#9c9c9c"/><rect x="261.9" y="769.6" width="1.8" height="3.4" fill="#c4c4c4"/><rect x="268" y="769.6" width="1.8" height="3.4" fill="#c4c4c4"/><text x="266.1" y="780.8" class="cal" text-anchor="middle">5</text>
<rect x="287.8" y="771.6" width="16.6" height="10.7" rx="1.8" fill="#fff" stroke="#9c9c9c" stroke-width="1.1"/><rect x="288" y="771.1" width="16.2" height="1.9" fill="#9c9c9c"/><rect x="291.9" y="769.6" width="1.8" height="3.4" fill="#c4c4c4"/><rect x="298" y="769.6" width="1.8" height="3.4" fill="#c4c4c4"/><text x="296.1" y="780.8" class="cal" text-anchor="middle">8</text>
<rect x="316.8" y="771.6" width="16.6" height="10.7" rx="1.8" fill="#fff" stroke="#9c9c9c" stroke-width="1.1"/><rect x="317" y="771.1" width="16.2" height="1.9" fill="#9c9c9c"/><rect x="320.9" y="769.6" width="1.8" height="3.4" fill="#c4c4c4"/><rect x="327" y="769.6" width="1.8" height="3.4" fill="#c4c4c4"/><text x="325.1" y="780.8" class="cal" text-anchor="middle">4</text>
<g opacity="0.55"><rect x="344" y="768.00" width="20" height="1.15" fill="#e0283c"/><rect x="344" y="770.31" width="20" height="1.15" fill="#e0283c"/><rect x="344" y="772.62" width="20" height="1.15" fill="#e0283c"/><rect x="344" y="774.92" width="20" height="1.15" fill="#e0283c"/><rect x="344" y="777.23" width="20" height="1.15" fill="#e0283c"/><rect x="344" y="779.54" width="20" height="1.15" fill="#e0283c"/><rect x="344" y="781.85" width="20" height="1.15" fill="#e0283c"/><rect x="344" y="768" width="20" height="15" fill="none"/><rect x="344" y="768" width="9" height="7" fill="#2f4590"/></g>
<rect x="374.8" y="771.6" width="16.6" height="10.7" rx="1.8" fill="#fff" stroke="#9c9c9c" stroke-width="1.1"/><rect x="375" y="771.1" width="16.2" height="1.9" fill="#9c9c9c"/><rect x="378.9" y="769.6" width="1.8" height="3.4" fill="#c4c4c4"/><rect x="385" y="769.6" width="1.8" height="3.4" fill="#c4c4c4"/><text x="383.1" y="780.8" class="cal" text-anchor="middle">4</text>
<rect x="403.8" y="771.6" width="16.6" height="10.7" rx="1.8" fill="#fff" stroke="#9c9c9c" stroke-width="1.1"/><rect x="404" y="771.1" width="16.2" height="1.9" fill="#9c9c9c"/><rect x="407.9" y="769.6" width="1.8" height="3.4" fill="#c4c4c4"/><rect x="414" y="769.6" width="1.8" height="3.4" fill="#c4c4c4"/><text x="412.1" y="780.8" class="cal" text-anchor="middle">4</text>
<rect x="433.8" y="771.6" width="16.6" height="10.7" rx="1.8" fill="#fff" stroke="#9c9c9c" stroke-width="1.1"/><rect x="434" y="771.1" width="16.2" height="1.9" fill="#9c9c9c"/><rect x="437.9" y="769.6" width="1.8" height="3.4" fill="#c4c4c4"/><rect x="444" y="769.6" width="1.8" height="3.4" fill="#c4c4c4"/><text x="442.1" y="780.8" class="cal" text-anchor="middle">10</text>
<rect x="462.8" y="771.6" width="16.6" height="10.7" rx="1.8" fill="#fff" stroke="#9c9c9c" stroke-width="1.1"/><rect x="463" y="771.1" width="16.2" height="1.9" fill="#9c9c9c"/><rect x="466.9" y="769.6" width="1.8" height="3.4" fill="#c4c4c4"/><rect x="473" y="769.6" width="1.8" height="3.4" fill="#c4c4c4"/><text x="471.1" y="780.8" class="cal" text-anchor="middle">2</text>
<g opacity="0.55"><rect x="491" y="768.00" width="20" height="1.15" fill="#e0283c"/><rect x="491" y="770.31" width="20" height="1.15" fill="#e0283c"/><rect x="491" y="772.62" width="20" height="1.15" fill="#e0283c"/><rect x="491" y="774.92" width="20" height="1.15" fill="#e0283c"/><rect x="491" y="777.23" width="20" height="1.15" fill="#e0283c"/><rect x="491" y="779.54" width="20" height="1.15" fill="#e0283c"/><rect x="491" y="781.85" width="20" height="1.15" fill="#e0283c"/><rect x="491" y="768" width="20" height="15" fill="none"/><rect x="491" y="768" width="9" height="7" fill="#2f4590"/></g>
<rect x="521.8" y="771.6" width="16.6" height="10.7" rx="1.8" fill="#fff" stroke="#9c9c9c" stroke-width="1.1"/><rect x="522" y="771.1" width="16.2" height="1.9" fill="#9c9c9c"/><rect x="525.9" y="769.6" width="1.8" height="3.4" fill="#c4c4c4"/><rect x="532" y="769.6" width="1.8" height="3.4" fill="#c4c4c4"/><text x="530.1" y="780.8" class="cal" text-anchor="middle">3</text>
<rect x="550.8" y="771.6" width="16.6" height="10.7" rx="1.8" fill="#fff" stroke="#9c9c9c" stroke-width="1.1"/><rect x="551" y="771.1" width="16.2" height="1.9" fill="#9c9c9c"/><rect x="554.9" y="769.6" width="1.8" height="3.4" fill="#c4c4c4"/><rect x="561" y="769.6" width="1.8" height="3.4" fill="#c4c4c4"/><text x="559.1" y="780.8" class="cal" text-anchor="middle">9</text>
<g opacity="0.55"><svg x="579" y="768" width="20" height="15" viewBox="0 0 60 30" preserveAspectRatio="none"><rect width="60" height="30" fill="#012169"/><path d="M0,0 L60,30 M60,0 L0,30" stroke="#fff" stroke-width="6"/><path d="M0,0 L60,30 M60,0 L0,30" stroke="#C8102E" stroke-width="2.5"/><path d="M30,0 V30 M0,15 H60" stroke="#fff" stroke-width="10"/><path d="M30,0 V30 M0,15 H60" stroke="#C8102E" stroke-width="6"/></svg></g>
<rect x="609.8" y="771.6" width="16.6" height="10.7" rx="1.8" fill="#fff" stroke="#9c9c9c" stroke-width="1.1"/><rect x="610" y="771.1" width="16.2" height="1.9" fill="#9c9c9c"/><rect x="613.9" y="769.6" width="1.8" height="3.4" fill="#c4c4c4"/><rect x="620" y="769.6" width="1.8" height="3.4" fill="#c4c4c4"/><text x="618.1" y="780.8" class="cal" text-anchor="middle">6</text>
<rect x="638.8" y="771.6" width="16.6" height="10.7" rx="1.8" fill="#fff" stroke="#9c9c9c" stroke-width="1.1"/><rect x="639" y="771.1" width="16.2" height="1.9" fill="#9c9c9c"/><rect x="642.9" y="769.6" width="1.8" height="3.4" fill="#c4c4c4"/><rect x="649" y="769.6" width="1.8" height="3.4" fill="#c4c4c4"/><text x="647.1" y="780.8" class="cal" text-anchor="middle">7</text>
<rect x="667.8" y="771.6" width="16.6" height="10.7" rx="1.8" fill="#fff" stroke="#9c9c9c" stroke-width="1.1"/><rect x="668" y="771.1" width="16.2" height="1.9" fill="#9c9c9c"/><rect x="671.9" y="769.6" width="1.8" height="3.4" fill="#c4c4c4"/><rect x="678" y="769.6" width="1.8" height="3.4" fill="#c4c4c4"/><text x="676.1" y="780.8" class="cal" text-anchor="middle">7</text>
<rect x="696.8" y="771.6" width="16.6" height="10.7" rx="1.8" fill="#fff" stroke="#9c9c9c" stroke-width="1.1"/><rect x="697" y="771.1" width="16.2" height="1.9" fill="#9c9c9c"/><rect x="700.9" y="769.6" width="1.8" height="3.4" fill="#c4c4c4"/><rect x="707" y="769.6" width="1.8" height="3.4" fill="#c4c4c4"/><text x="705.1" y="780.8" class="cal" text-anchor="middle">5</text>
<g opacity="0.55"><rect x="725" y="768.00" width="20" height="1.15" fill="#e0283c"/><rect x="725" y="770.31" width="20" height="1.15" fill="#e0283c"/><rect x="725" y="772.62" width="20" height="1.15" fill="#e0283c"/><rect x="725" y="774.92" width="20" height="1.15" fill="#e0283c"/><rect x="725" y="777.23" width="20" height="1.15" fill="#e0283c"/><rect x="725" y="779.54" width="20" height="1.15" fill="#e0283c"/><rect x="725" y="781.85" width="20" height="1.15" fill="#e0283c"/><rect x="725" y="768" width="20" height="15" fill="none"/><rect x="725" y="768" width="9" height="7" fill="#2f4590"/></g>
<rect x="755.8" y="771.6" width="16.6" height="10.7" rx="1.8" fill="#fff" stroke="#9c9c9c" stroke-width="1.1"/><rect x="756" y="771.1" width="16.2" height="1.9" fill="#9c9c9c"/><rect x="759.9" y="769.6" width="1.8" height="3.4" fill="#c4c4c4"/><rect x="766" y="769.6" width="1.8" height="3.4" fill="#c4c4c4"/><text x="764.1" y="780.8" class="cal" text-anchor="middle">11</text>
<rect x="784.8" y="771.6" width="16.6" height="10.7" rx="1.8" fill="#fff" stroke="#9c9c9c" stroke-width="1.1"/><rect x="785" y="771.1" width="16.2" height="1.9" fill="#9c9c9c"/><rect x="788.9" y="769.6" width="1.8" height="3.4" fill="#c4c4c4"/><rect x="795" y="769.6" width="1.8" height="3.4" fill="#c4c4c4"/><text x="793.1" y="780.8" class="cal" text-anchor="middle">8</text>
<rect x="813.8" y="771.6" width="16.6" height="10.7" rx="1.8" fill="#fff" stroke="#9c9c9c" stroke-width="1.1"/><rect x="814" y="771.1" width="16.2" height="1.9" fill="#9c9c9c"/><rect x="817.9" y="769.6" width="1.8" height="3.4" fill="#c4c4c4"/><rect x="824" y="769.6" width="1.8" height="3.4" fill="#c4c4c4"/><text x="822.1" y="780.8" class="cal" text-anchor="middle">5</text>
<rect x="3" y="521" width="117.5" height="24" fill="#fff" fill-opacity="0.8"/>
<rect x="123.5" y="521" width="129" height="24" fill="#fff" fill-opacity="0.8"/>
<text x="8" y="535" class="lg"><tspan font-weight="bold">VWAP</tspan> 20 1 2 3</text>
<g transform="translate(90,531.5)" fill="#a0a0a0"><circle r="4.2"/><rect x="-1.3" y="-6" width="2.6" height="3" transform="rotate(0)"/><rect x="-1.3" y="-6" width="2.6" height="3" transform="rotate(45)"/><rect x="-1.3" y="-6" width="2.6" height="3" transform="rotate(90)"/><rect x="-1.3" y="-6" width="2.6" height="3" transform="rotate(135)"/><rect x="-1.3" y="-6" width="2.6" height="3" transform="rotate(180)"/><rect x="-1.3" y="-6" width="2.6" height="3" transform="rotate(225)"/><rect x="-1.3" y="-6" width="2.6" height="3" transform="rotate(270)"/><rect x="-1.3" y="-6" width="2.6" height="3" transform="rotate(315)"/><circle r="1.8" fill="#fff"/></g>
<g transform="translate(107,531.5)" stroke="#9c9c9c" stroke-width="2.5" stroke-linecap="butt"><line x1="-3.8" y1="-3.8" x2="3.8" y2="3.8"/><line x1="3.8" y1="-3.8" x2="-3.8" y2="3.8"/></g>
<text x="125.5" y="535" class="lg"><tspan font-weight="bold">AUTO TREND</tspan> 3 3 1</text>
<g transform="translate(230,531.5)" fill="#a0a0a0"><circle r="4.2"/><rect x="-1.3" y="-6" width="2.6" height="3" transform="rotate(0)"/><rect x="-1.3" y="-6" width="2.6" height="3" transform="rotate(45)"/><rect x="-1.3" y="-6" width="2.6" height="3" transform="rotate(90)"/><rect x="-1.3" y="-6" width="2.6" height="3" transform="rotate(135)"/><rect x="-1.3" y="-6" width="2.6" height="3" transform="rotate(180)"/><rect x="-1.3" y="-6" width="2.6" height="3" transform="rotate(225)"/><rect x="-1.3" y="-6" width="2.6" height="3" transform="rotate(270)"/><rect x="-1.3" y="-6" width="2.6" height="3" transform="rotate(315)"/><circle r="1.8" fill="#fff"/></g>
<g transform="translate(247,531.5)" stroke="#9c9c9c" stroke-width="2.5" stroke-linecap="butt"><line x1="-3.8" y1="-3.8" x2="3.8" y2="3.8"/><line x1="3.8" y1="-3.8" x2="-3.8" y2="3.8"/></g>
<rect x="3" y="603" width="75" height="21" fill="#fff" fill-opacity="0.85"/>
<text x="8.5" y="617.5" class="lg"><tspan font-weight="bold">RSI</tspan> 14</text>
<g transform="translate(50,613.5)" fill="#a0a0a0"><circle r="4.2"/><rect x="-1.3" y="-6" width="2.6" height="3" transform="rotate(0)"/><rect x="-1.3" y="-6" width="2.6" height="3" transform="rotate(45)"/><rect x="-1.3" y="-6" width="2.6" height="3" transform="rotate(90)"/><rect x="-1.3" y="-6" width="2.6" height="3" transform="rotate(135)"/><rect x="-1.3" y="-6" width="2.6" height="3" transform="rotate(180)"/><rect x="-1.3" y="-6" width="2.6" height="3" transform="rotate(225)"/><rect x="-1.3" y="-6" width="2.6" height="3" transform="rotate(270)"/><rect x="-1.3" y="-6" width="2.6" height="3" transform="rotate(315)"/><circle r="1.8" fill="#fff"/></g>
<g transform="translate(67,613.5)" stroke="#9c9c9c" stroke-width="2.5" stroke-linecap="butt"><line x1="-3.8" y1="-3.8" x2="3.8" y2="3.8"/><line x1="3.8" y1="-3.8" x2="-3.8" y2="3.8"/></g>
<g stroke="#444" stroke-width="1.1" fill="none"><line x1="89.5" y1="608.5" x2="89.5" y2="620"/><polyline points="84,614 89.5,608.5 95,614"/></g>
</svg>
<div id="hdr">
  <svg width="966" height="34" style="position:absolute;left:0;top:0">
    <rect x="6" y="5" width="22" height="22" fill="#fff"/>
    <g fill="#e6e6e6"><rect x="8" y="7" width="18" height="1"/><rect x="8" y="11" width="18" height="1"/><rect x="8" y="15" width="18" height="1"/><rect x="8" y="19" width="18" height="1"/><rect x="8" y="23" width="18" height="1"/></g>
    <polyline points="8.9,22.3 13.5,12.4 18.3,17.5 24.6,9.9" fill="none" stroke="#17899a" stroke-width="1.8"/>
    <circle cx="158.7" cy="13.5" r="4" fill="none" stroke="#ddd" stroke-width="1.3"/>
    <line x1="161.6" y1="16.4" x2="166.8" y2="21.3" stroke="#ddd" stroke-width="1.6"/>
    <rect x="898" y="21" width="13" height="2" fill="#ddd"/>
    <rect x="920.8" y="13.8" width="8.4" height="8.4" fill="none" stroke="#ddd" stroke-width="1.5"/>
    <line x1="924.5" y1="18.1" x2="931.5" y2="18.1" stroke="#ddd" stroke-width="1.5"/>
    <polygon points="931,15.3 934.8,18.1 931,20.9" fill="#ddd"/>
    <rect x="929" y="10.2" width="6" height="1.4" fill="#ddd"/><rect x="931.3" y="8" width="1.4" height="6" fill="#ddd"/>
    <line x1="943.5" y1="8.3" x2="957.5" y2="22.4" stroke="#ddd" stroke-width="1.5"/>
    <line x1="957.5" y1="8.3" x2="943.5" y2="22.4" stroke="#ddd" stroke-width="1.5"/>
  </svg>
  <div class="title">SPOT, USD/JPY</div>
</div>
<div id="tb">
  <div class="menu" style="left:10px">Daily</div><div class="caret" style="left:47px"></div>
  <div class="menu" style="left:77px">Technical</div><div class="caret" style="left:142px"></div>
  <div class="menu" style="left:171px">Display</div><div class="caret" style="left:222px"></div>
  <div class="menu" style="left:252px">More</div><div class="caret" style="left:290px"></div>
  <svg width="966" height="39" style="position:absolute;left:0;top:0">
    <path d="M321.7,24.5 V13.9 Q321.7,13.4 322.3,13.4 H326.5 L328,15.6 H332.6 V18" fill="none" stroke="#333" stroke-width="1.1"/>
    <polygon points="325.6,18.1 335.9,18.1 332.8,25 322.3,25" fill="#333"/>
    <path d="M356.5,12 H368.3 L370,13.7 V25.1 Q370,26.6 368.5,26.6 H356.8 Q355.3,26.6 355.3,25.1 V13.5 Q355.3,12 356.8,12 Z" fill="#333"/>
    <rect x="359.3" y="13.1" width="6.5" height="3.8" fill="#fff"/>
    <rect x="363.8" y="13.8" width="1" height="2" fill="#333"/>
    <rect x="357.1" y="19.2" width="10.9" height="5.8" rx="1" fill="#fff"/>
    <rect x="388" y="16.2" width="15" height="3.7" fill="#111"/>
    <rect x="423.5" y="16.2" width="15.2" height="3.7" fill="#111"/>
    <rect x="429.3" y="10.9" width="3.6" height="14.8" fill="#111"/>
    <rect x="402" y="30" width="1" height="8" fill="#d0d0d0"/>
    <rect x="437.5" y="30" width="1" height="8" fill="#d0d0d0"/>
  </svg>
  <div class="cp">CURRENT PRICE:</div>
  <div class="pbox" style="left:785px;background:#c1282f">
    <svg width="12" height="12" style="position:absolute;left:5px;top:1px"><path d="M3,0 h4 v5 h3 l-5,5 l-5,-5 h3 z" fill="#7a1018"/></svg>
    <span class="t" style="left:16px">148.84<span style="font-size:9px">9</span></span>
  </div>
  <div class="pbox" style="left:880px;background:#178c98">
    <svg width="12" height="12" style="position:absolute;left:69px;top:2px"><path d="M5,0 l5,5 h-3 v5 h-4 v-5 h-3 z" fill="#0b5560"/></svg>
    <span class="t" style="left:15px">148.85<span style="font-size:9px">6</span></span>
  </div>
</div>
</body></html>
